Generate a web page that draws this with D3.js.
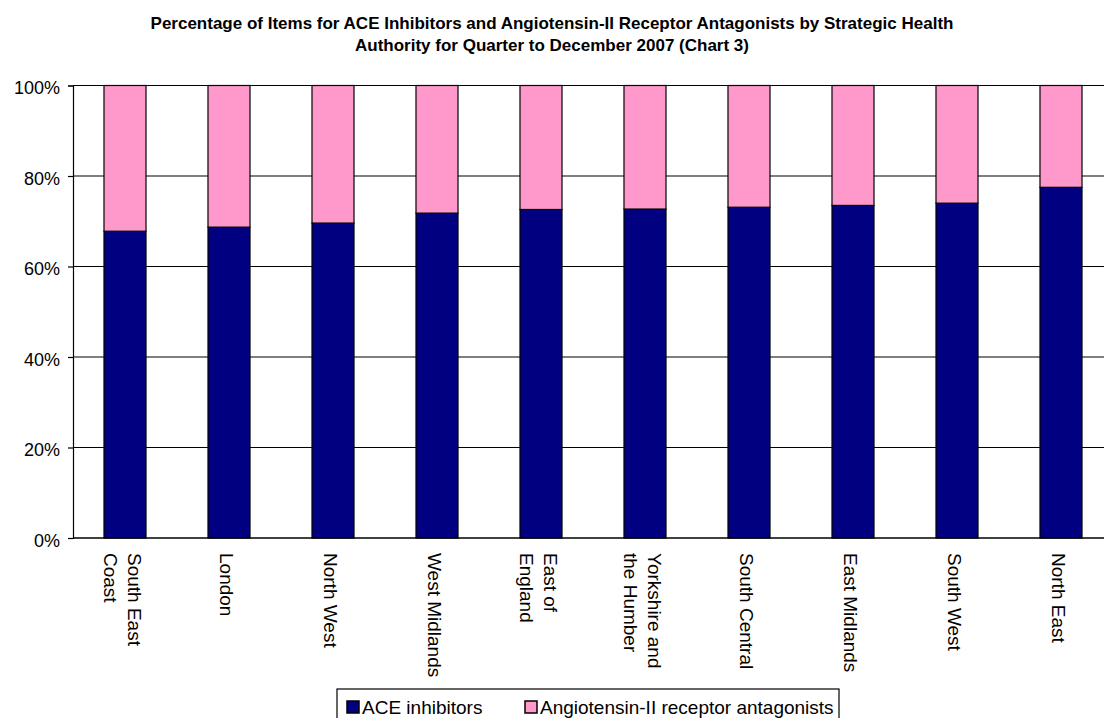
<!DOCTYPE html>
<html>
<head>
<meta charset="utf-8">
<script src="https://cdn.jsdelivr.net/npm/d3@7"></script>
<style>
  html, body { margin: 0; padding: 0; background: #fff; }
  svg { display: block; font-family: Arial, "Liberation Sans", sans-serif; }
</style>
</head>
<body>
<svg id="chart" width="1104" height="718"></svg>
<script>
// Strategic Health Authorities (label lines)
const regions = [
  ["South East", "Coast"],
  ["London"],
  ["North West"],
  ["West Midlands"],
  ["East of", "England"],
  ["Yorkshire and", "the Humber"],
  ["South Central"],
  ["East Midlands"],
  ["South West"],
  ["North East"]
];
// Share of items that are ACE inhibitors (%)
const aceShare = [67.8, 68.7, 69.6, 71.8, 72.6, 72.7, 73.1, 73.5, 74.0, 77.5];
// Share of items that are Angiotensin-II receptor antagonists (%)
const arbShare = aceShare.map(v => 100 - v);
const yTicks = [0, 20, 40, 60, 80, 100];
const seriesNames = ["ACE inhibitors", "Angiotensin-II receptor antagonists"];
const seriesColors = ["#000080", "#FF99CC"];
const titleLines = [
  "Percentage of Items for ACE Inhibitors and Angiotensin-II Receptor Antagonists by Strategic Health",
  "Authority for Quarter to December 2007 (Chart 3)"
];

const svg = d3.select("#chart");
const W = 1104;
const plot = { left: 73, top: 85.5, bottom: 538 };
const bandW = 104;
const fontSize = 19;

const x = d3.scaleBand()
  .domain(d3.range(regions.length))
  .range([plot.left, plot.left + bandW * regions.length])
  .paddingInner(0.596)
  .paddingOuter(0.298);
const y = d3.scaleLinear().domain([0, 100]).range([plot.bottom, plot.top]);

// Title
const title = svg.append("text")
  .attr("x", 552).attr("y", 29)
  .attr("text-anchor", "middle")
  .attr("font-weight", "bold")
  .attr("font-size", 17);
titleLines.forEach((t, i) => {
  title.append("tspan").attr("x", 552).attr("dy", i === 0 ? 0 : 22).text(t);
});

// Gridlines
svg.append("g")
  .selectAll("line")
  .data(yTicks.filter(d => d > 0))
  .join("line")
  .attr("x1", plot.left).attr("x2", W)
  .attr("y1", d => y(d)).attr("y2", d => y(d))
  .attr("stroke", "#000").attr("stroke-width", 1.2);

// Y axis
const yAxis = d3.axisLeft(y)
  .tickValues(yTicks)
  .tickFormat(d => d + "%")
  .tickSize(5)
  .tickPadding(8);
const yg = svg.append("g").attr("transform", `translate(${plot.left},0)`).call(yAxis);
yg.select(".domain").attr("stroke", "#000").attr("stroke-width", 1.2);
yg.selectAll(".tick line").attr("stroke", "#000").attr("stroke-width", 1.2);
yg.selectAll(".tick text")
  .attr("font-size", 18)
  .attr("dy", "0.45em")
  .attr("font-family", "Arial, 'Liberation Sans', sans-serif")
  .attr("fill", "#000");

// Stacked bars
const stackData = aceShare.map((v, i) => ({ i, ace: v, arb: arbShare[i] }));
const stacked = d3.stack().keys(["ace", "arb"])(stackData);
svg.append("g")
  .selectAll("g")
  .data(stacked)
  .join("g")
  .attr("fill", (d, k) => seriesColors[k])
  .selectAll("rect")
  .data(d => d)
  .join("rect")
  .attr("x", d => x(d.data.i))
  .attr("width", x.bandwidth())
  .attr("y", d => y(d[1]))
  .attr("height", d => y(d[0]) - y(d[1]))
  .attr("stroke", "#000")
  .attr("stroke-width", 1.2);

// X axis baseline
svg.append("line")
  .attr("x1", plot.left).attr("x2", W)
  .attr("y1", plot.bottom).attr("y2", plot.bottom)
  .attr("stroke", "#000").attr("stroke-width", 1.5);

// Category labels, rotated to read downward; multi-line labels are
// centred as a block under their bar
const lineGap = 24.5;
svg.append("g")
  .selectAll("text")
  .data(regions)
  .join("text")
  .attr("font-size", fontSize)
  .attr("fill", "#000")
  .attr("transform", (d, i) => {
    const bc = x(i) + x.bandwidth() / 2;
    const ax = bc - 8.8 + (d.length - 1) * lineGap / 2;
    return `translate(${ax},553) rotate(90)`;
  })
  .each(function(d) {
    const t = d3.select(this);
    d.forEach((line, k) => {
      t.append("tspan").attr("x", 0).attr("y", k * lineGap).text(line);
    });
  });

// Legend
const legend = svg.append("g");
legend.append("rect")
  .attr("x", 337).attr("y", 689)
  .attr("width", 502).attr("height", 40)
  .attr("fill", "#fff").attr("stroke", "#000").attr("stroke-width", 1.2);
const legendX = [347, 525];
seriesNames.forEach((name, k) => {
  legend.append("rect")
    .attr("x", legendX[k]).attr("y", 701)
    .attr("width", 12).attr("height", 12)
    .attr("fill", seriesColors[k]).attr("stroke", "#000").attr("stroke-width", 1.5);
  legend.append("text")
    .attr("x", legendX[k] + 15).attr("y", 714)
    .attr("font-size", fontSize).attr("fill", "#000")
    .text(name);
});
</script>
</body>
</html>
